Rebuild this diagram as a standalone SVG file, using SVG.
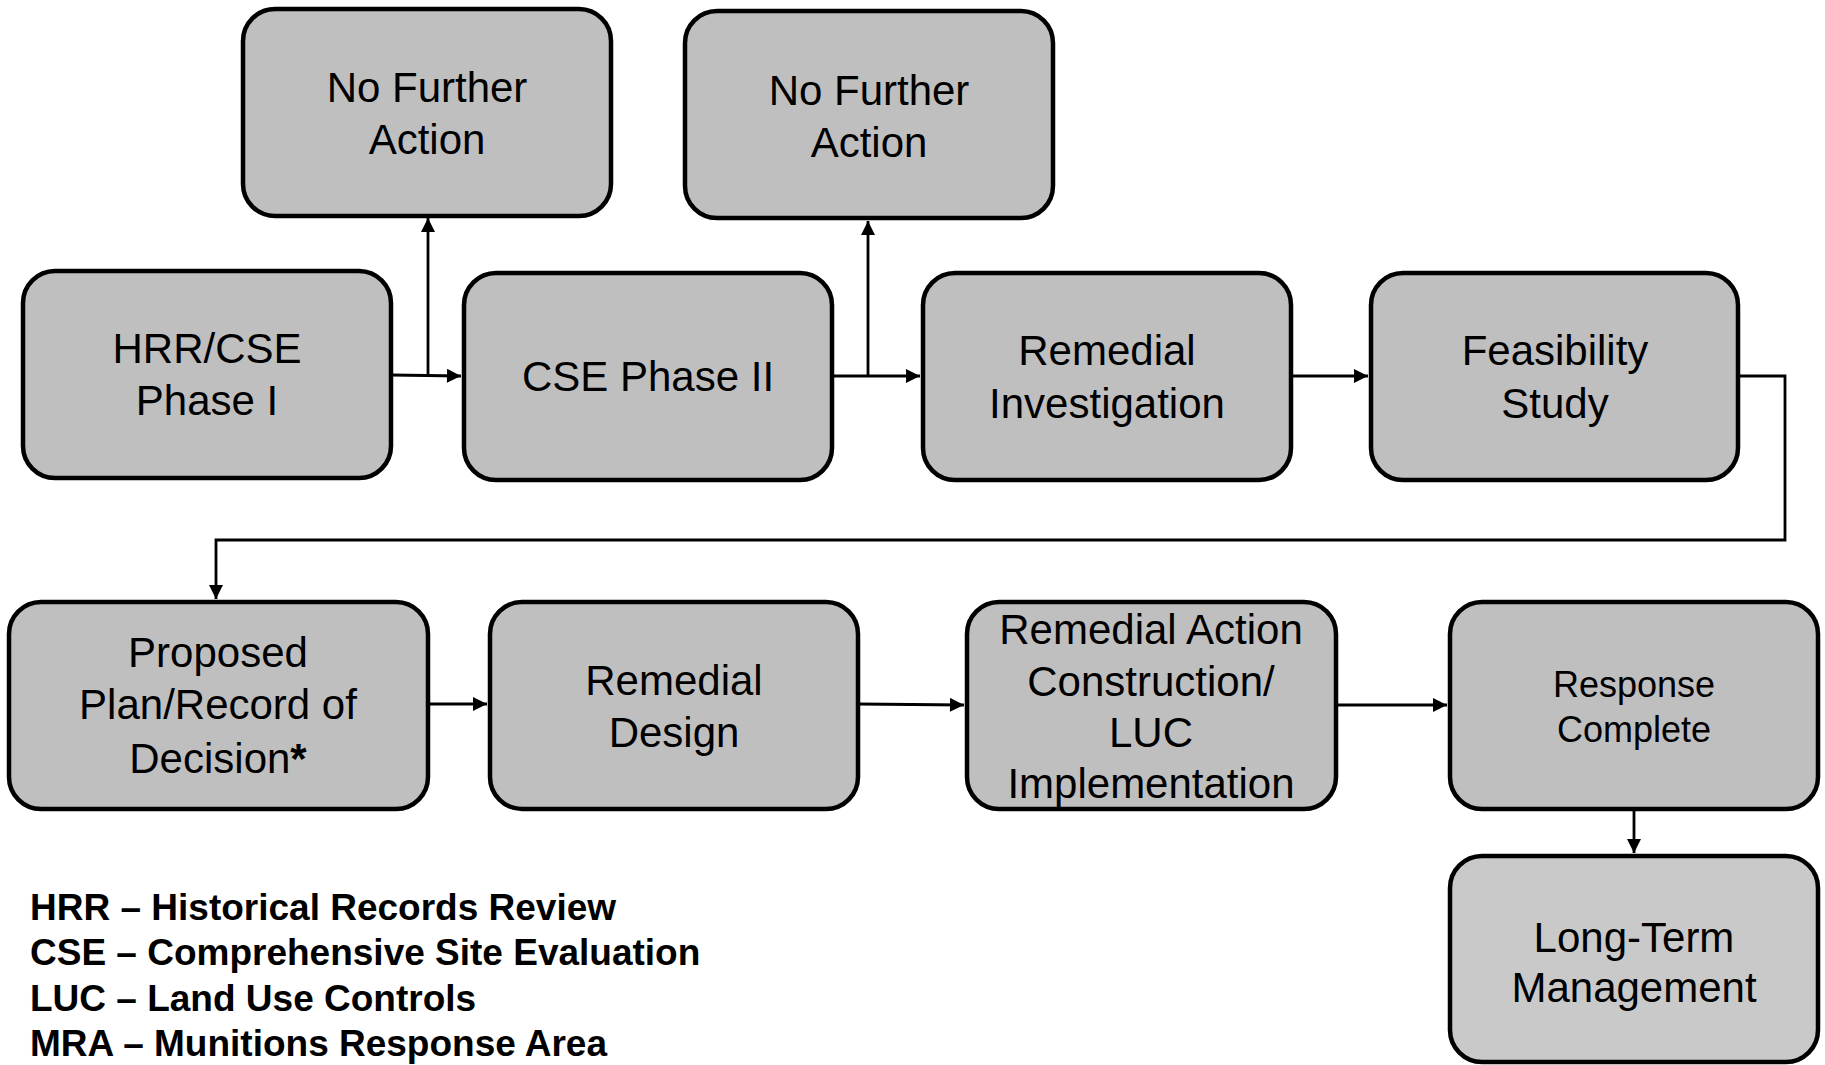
<svg xmlns="http://www.w3.org/2000/svg" width="1825" height="1065" viewBox="0 0 1825 1065">
<style>
.box{fill:#bfbfbf;stroke:#000;stroke-width:4.5}
.ltm{fill:#c9c9c9}
.t{font-family:"Liberation Sans",Arial,sans-serif;font-size:42px;fill:#000;text-anchor:middle}
.s{font-size:36px}
.c{fill:none;stroke:#000;stroke-width:2.8}
.leg{font-family:"Liberation Sans",Arial,sans-serif;font-size:37px;font-weight:bold;fill:#000}
</style>
<defs>
<marker id="ah" viewBox="0 0 10 10" refX="10" refY="5" markerWidth="5.5" markerHeight="5" orient="auto" markerUnits="strokeWidth">
<path d="M0,0 L10,5 L0,10 z" fill="#000"/>
</marker>
</defs>
<g id="connectors">
<path class="c" d="M391,375 L461,376" marker-end="url(#ah)"/>
<path class="c" d="M428,375 L428,218" marker-end="url(#ah)"/>
<path class="c" d="M832,376 L920,376" marker-end="url(#ah)"/>
<path class="c" d="M868,376 L868,221" marker-end="url(#ah)"/>
<path class="c" d="M1291,376 L1368,376" marker-end="url(#ah)"/>
<path class="c" d="M1738,376 L1785,376 L1785,540 L216,540 L216,599" marker-end="url(#ah)"/>
<path class="c" d="M428,704 L487,704" marker-end="url(#ah)"/>
<path class="c" d="M858,704 L964,705" marker-end="url(#ah)"/>
<path class="c" d="M1336,705 L1447,705" marker-end="url(#ah)"/>
<path class="c" d="M1634,809 L1634,853" marker-end="url(#ah)"/>
</g>
<g id="nfa1"><rect class="box" x="243" y="9" width="368" height="207" rx="32"/>
<text class="t" x="427" y="102">No Further</text><text class="t" x="427" y="154">Action</text></g>
<g id="nfa2"><rect class="box" x="685" y="11" width="368" height="207" rx="32"/>
<text class="t" x="869" y="105">No Further</text><text class="t" x="869" y="157">Action</text></g>
<g id="hrr"><rect class="box" x="23" y="271" width="368" height="207" rx="32"/>
<text class="t" x="207" y="363">HRR/CSE</text><text class="t" x="207" y="415">Phase I</text></g>
<g id="cse2"><rect class="box" x="464" y="273" width="368" height="207" rx="32"/>
<text class="t" x="648" y="391">CSE Phase II</text></g>
<g id="ri"><rect class="box" x="923" y="273" width="368" height="207" rx="32"/>
<text class="t" x="1107" y="365">Remedial</text><text class="t" x="1107" y="418">Investigation</text></g>
<g id="fs"><rect class="box" x="1371" y="273" width="367" height="207" rx="32"/>
<text class="t" x="1555" y="365">Feasibility</text><text class="t" x="1555" y="418">Study</text></g>
<g id="pp"><rect class="box" x="9" y="602" width="419" height="207" rx="32"/>
<text class="t" x="218" y="667">Proposed</text><text class="t" x="218" y="719">Plan/Record of</text><text class="t" x="218" y="773">Decision<tspan font-weight="bold">*</tspan></text></g>
<g id="rd"><rect class="box" x="490" y="602" width="368" height="207" rx="32"/>
<text class="t" x="674" y="695">Remedial</text><text class="t" x="674" y="747">Design</text></g>
<g id="ra"><rect class="box" x="967" y="602" width="369" height="207" rx="32"/>
<text class="t" x="1151" y="644">Remedial Action</text><text class="t" x="1151" y="696">Construction/</text><text class="t" x="1151" y="747">LUC</text><text class="t" x="1151" y="798">Implementation</text></g>
<g id="rc"><rect class="box" x="1450" y="602" width="368" height="207" rx="32"/>
<text class="t s" x="1634" y="697">Response</text><text class="t s" x="1634" y="742">Complete</text></g>
<g id="ltm"><rect class="box ltm" x="1450" y="856" width="368" height="206" rx="32"/>
<text class="t" x="1634" y="952">Long-Term</text><text class="t" x="1634" y="1002">Management</text></g>
<g id="legend">
<text class="leg" x="30" y="920">HRR – Historical Records Review</text>
<text class="leg" x="30" y="965">CSE – Comprehensive Site Evaluation</text>
<text class="leg" x="30" y="1011">LUC – Land Use Controls</text>
<text class="leg" x="30" y="1056">MRA – Munitions Response Area</text>
</g>
</svg>
